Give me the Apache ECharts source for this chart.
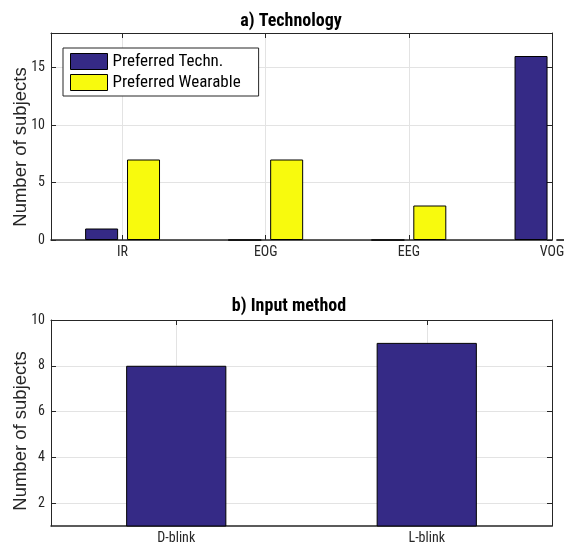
<!DOCTYPE html>
<html>
<head>
<meta charset="utf-8">
<script src="https://cdn.jsdelivr.net/npm/echarts@6/dist/echarts.min.js"></script>
<style>
  html, body { margin: 0; padding: 0; background: #fff; }
  #chart { width: 564px; height: 546px; }
</style>
</head>
<body>
<div id="chart"></div>
<script>
// Panel a) technology preferences
const techCategories = ['IR', 'EOG', 'EEG', 'VOG'];
const preferredTechn = [1, 0, 0, 16];
const preferredWearable = [7, 7, 3, 0];
const techTicks = [0, 5, 10, 15];

// Panel b) input method
const inputCategories = ['D-blink', 'L-blink'];
const inputSubjects = [8, 9];
const inputTicks = [2, 4, 6, 8, 10];

const NARROW = "'Roboto Condensed', 'Liberation Sans', sans-serif";
const REGULAR = "'Liberation Sans', Arial, sans-serif";
const AXIS = '#262626';
const GRID = '#e3e3e3';
const DARK = '#352a86';
const YELLOW = '#f8fa0d';

// category positions on a numeric axis (1..n)
const techPos = techCategories.map((c, i) => i + 1);
const inputPos = inputCategories.map((c, i) => i + 1);

function xAxisDef(grid, pos, names, min, max, position, withLabels) {
  return {
    type: 'value', gridIndex: grid, min: min, max: max, position: position,
    axisLine: { show: true, onZero: false, lineStyle: { color: AXIS, width: withLabels ? 1.5 : 1 } },
    axisTick: { show: true, inside: true, length: 5, customValues: pos, lineStyle: { color: AXIS } },
    axisLabel: {
      show: withLabels, customValues: pos, margin: 5,
      fontFamily: NARROW, fontSize: 14, color: AXIS,
      formatter: v => names[Math.round(v) - 1] || ''
    },
    splitLine: { show: withLabels, lineStyle: { color: GRID, width: 1 } }
  };
}

function yAxisDef(grid, ticks, min, max, position, withLabels) {
  return {
    type: 'value', gridIndex: grid, min: min, max: max, position: position,
    axisLine: { show: true, onZero: false, lineStyle: { color: AXIS, width: 1 } },
    axisTick: { show: true, inside: true, length: 5, customValues: ticks, lineStyle: { color: AXIS } },
    axisLabel: {
      show: withLabels, customValues: ticks, margin: 6,
      fontFamily: NARROW, fontSize: 14, color: AXIS
    },
    splitLine: { show: withLabels, lineStyle: { color: GRID, width: 1 } }
  };
}

const chart = echarts.init(document.getElementById('chart'), null, { renderer: 'canvas' });

chart.setOption({
  animation: false,
  backgroundColor: '#fff',
  title: [
    {
      text: 'a) Technology', left: 291, top: 12, textAlign: 'center', padding: 0,
      textStyle: { fontFamily: NARROW, fontSize: 18, fontWeight: 'bold', color: '#000' }
    },
    {
      text: 'b) Input method', left: 289, top: 297, textAlign: 'center', padding: 0,
      textStyle: { fontFamily: NARROW, fontSize: 18, fontWeight: 'bold', color: '#000' }
    }
  ],
  legend: {
    orient: 'vertical', left: 63, top: 48,
    data: ['Preferred Techn.', 'Preferred Wearable'],
    itemWidth: 37, itemHeight: 16, itemGap: 4,
    padding: [5, 18, 5, 7],
    borderColor: AXIS, borderWidth: 1, backgroundColor: '#fff',
    icon: 'rect',
    itemStyle: { borderColor: '#000', borderWidth: 1 },
    textStyle: { fontFamily: NARROW, fontSize: 17, color: '#000' }
  },
  graphic: [
    {
      type: 'text', x: 21, y: 147, rotation: Math.PI / 2,
      style: {
        text: 'Number of subjects', fill: AXIS, font: '18.5px ' + REGULAR,
        textAlign: 'center', textVerticalAlign: 'middle'
      }
    },
    {
      type: 'text', x: 21, y: 431, rotation: Math.PI / 2,
      style: {
        text: 'Number of subjects', fill: AXIS, font: '18.5px ' + REGULAR,
        textAlign: 'center', textVerticalAlign: 'middle'
      }
    }
  ],
  grid: [
    { left: 51, right: 12, top: 33, height: 207, outerBoundsMode: 'none' },
    { left: 51, right: 12, top: 320, height: 206, outerBoundsMode: 'none' }
  ],
  xAxis: [
    xAxisDef(0, techPos, techCategories, 0.5, 4, 'bottom', true),
    xAxisDef(0, techPos, techCategories, 0.5, 4, 'top', false),
    xAxisDef(1, inputPos, inputCategories, 0.5, 2.5, 'bottom', true),
    xAxisDef(1, inputPos, inputCategories, 0.5, 2.5, 'top', false)
  ],
  yAxis: [
    yAxisDef(0, techTicks, 0, 18, 'left', true),
    yAxisDef(0, techTicks, 0, 18, 'right', false),
    yAxisDef(1, inputTicks, 1, 10, 'left', true),
    yAxisDef(1, inputTicks, 1, 10, 'right', false)
  ],
  series: [
    {
      name: 'Preferred Techn.', type: 'bar', xAxisIndex: 0, yAxisIndex: 0,
      barWidth: 33, barGap: '27%',
      itemStyle: { color: DARK, borderColor: '#000', borderWidth: 1 },
      data: techPos.map((x, i) => [x, preferredTechn[i]])
    },
    {
      name: 'Preferred Wearable', type: 'bar', xAxisIndex: 0, yAxisIndex: 0,
      barWidth: 33, barGap: '27%',
      itemStyle: { color: YELLOW, borderColor: '#000', borderWidth: 1 },
      data: techPos.map((x, i) => [x, preferredWearable[i]])
    },
    {
      name: 'Input method', type: 'bar', xAxisIndex: 2, yAxisIndex: 2,
      barWidth: '40%',
      itemStyle: { color: DARK, borderColor: '#000', borderWidth: 1 },
      data: inputPos.map((x, i) => [x, inputSubjects[i]])
    }
  ]
});
</script>
</body>
</html>
